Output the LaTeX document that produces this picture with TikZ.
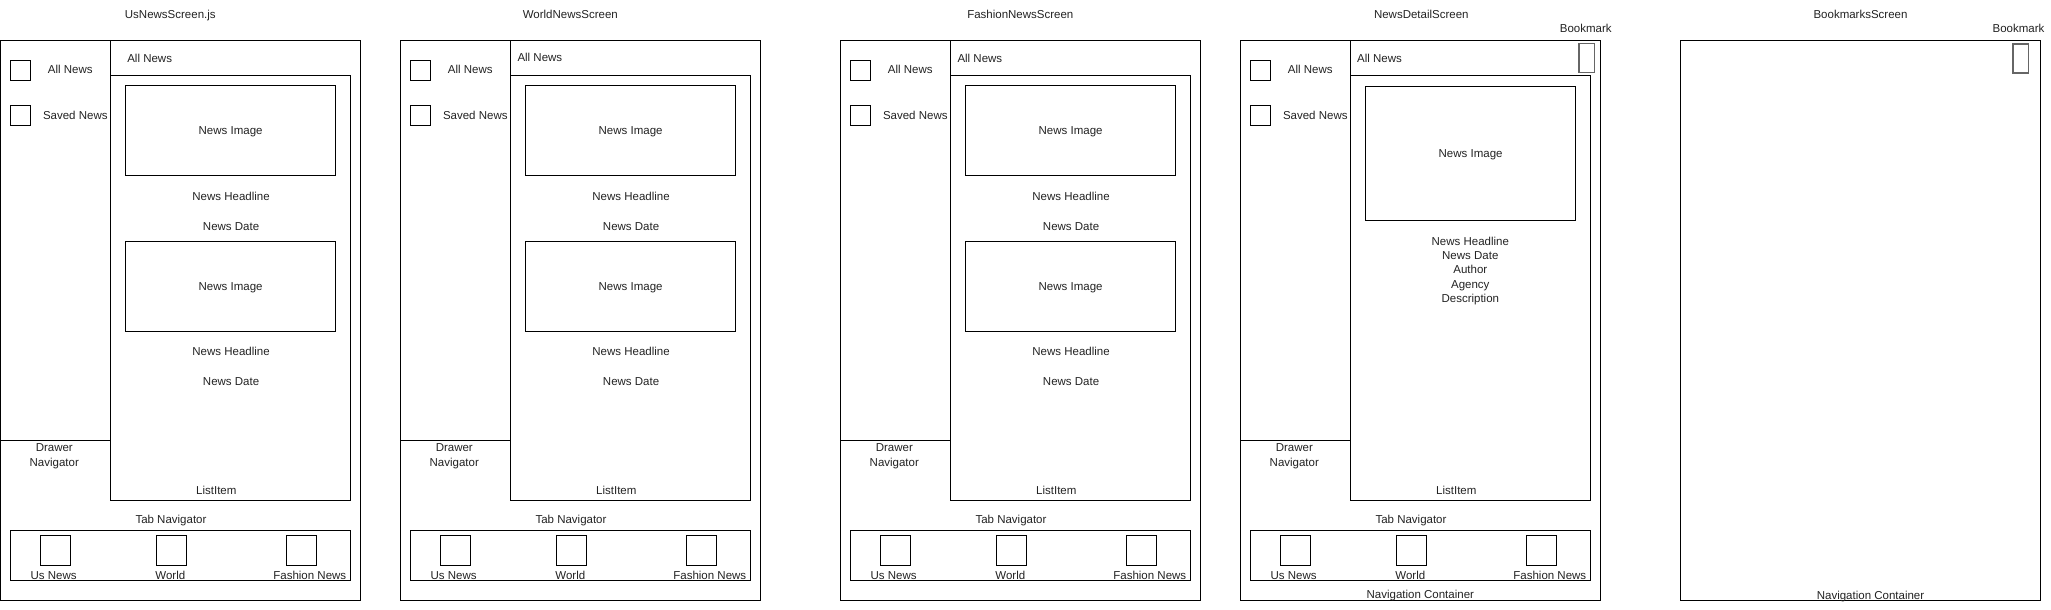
\documentclass[tikz,border=0pt]{standalone}
\usepackage{fontspec}
\setmainfont{Liberation Sans}
\newcommand\fs{\fontsize{11.5}{14.3}\selectfont}
\definecolor{txtgray}{HTML}{222222}
\definecolor{bmgray}{HTML}{666666}
\tikzset{
  ln/.style={draw=black, line width=1pt},
  box/.style={ln, inner sep=0, outer sep=0},
  txt/.style={inner sep=0, outer sep=0, text=txtgray, font=\fs, text height=8, text depth=0},
  mtxt/.style={inner sep=0, outer sep=0, text=txtgray, font=\fs, align=center},
  bmbox/.style={draw=bmgray, line width=1.2pt, inner sep=0, outer sep=0, minimum width=15.6, minimum height=29.4},
}
% common parts of a screen with drawer, list and tab bar
\newcommand\screenbase[3]{%
  \node[box, minimum width=360, minimum height=559.8] (#1-frame) at (180,-320.6) {};
  \node[box, minimum width=240, minimum height=424.3] (#1-list) at (230.3,-287.85) {};
  \coordinate (#1-dtop) at (110.3,-40.7);
  \coordinate (#1-dbot) at (110.3,-440.3);
  \coordinate (#1-dleft) at (0,-440.3);
  \draw[ln] (#1-dtop) -- (#1-dbot) -- (#1-dleft);
  \node[txt, anchor=west] (#1-hdr) at (#2,#3) {All News};
  \node[box, minimum width=20, minimum height=20] (#1-cb1) at (20.3,-70.3) {};
  \node[txt] (#1-cbl1) at (70,-70) {All News};
  \node[box, minimum width=20, minimum height=20] (#1-cb2) at (20.3,-115.3) {};
  \node[txt] (#1-cbl2) at (75,-115) {Saved News};
  \node[mtxt] (#1-drawer) at (54,-456.3) {Drawer\\Navigator};
  \node[txt] (#1-li) at (216,-490) {ListItem};
  \node[txt] (#1-tabnav) at (170.7,-519.7) {Tab Navigator};
  \node[box, minimum width=340, minimum height=50.3] (#1-tabbar) at (180.3,-555.15) {};
  \node[box, minimum width=30, minimum height=30] (#1-t1) at (55.3,-550.3) {};
  \node[box, minimum width=30, minimum height=30] (#1-t2) at (171.3,-550.3) {};
  \node[box, minimum width=30, minimum height=30] (#1-t3) at (301.3,-550.3) {};
  \node[txt] (#1-tl1) at (53.3,-575.3) {Us News};
  \node[txt] (#1-tl2) at (170,-575.3) {World};
  \node[txt] (#1-tl3) at (309.5,-575.3) {Fashion News};
}
% list screen with two news items
\newcommand\listscreen[5]{%
  \begin{scope}[shift={(#2,0)}]
  \node[txt] (#1-title) at (#3,-15) {\csname ttl#1\endcsname};
  \screenbase{#1}{#4}{#5}
  \node[box, minimum width=210, minimum height=90] (#1-img1) at (230.3,-130.3) {};
  \node[txt] (#1-img1t) at (230.3,-130.3) {News Image};
  \node[txt] (#1-hl1) at (230.8,-196) {News Headline};
  \node[txt] (#1-dt1) at (230.8,-226) {News Date};
  \node[box, minimum width=210, minimum height=90] (#1-img2) at (230.3,-286) {};
  \node[txt] (#1-img2t) at (230.3,-286) {News Image};
  \node[txt] (#1-hl2) at (230.8,-351.7) {News Headline};
  \node[txt] (#1-dt2) at (230.8,-381) {News Date};
  \end{scope}
}
\newcommand\ttla{UsNewsScreen.js}
\newcommand\ttlb{WorldNewsScreen}
\newcommand\ttlc{FashionNewsScreen}
\begin{document}
\begin{tikzpicture}[x=1pt, y=1pt]
\useasboundingbox (0,0) rectangle (2051,-610);

\listscreen{a}{0.3}{170}{127}{-59}
\listscreen{b}{400.3}{170}{117.2}{-57.5}
\listscreen{c}{840.3}{180}{117.2}{-59}

% News detail screen
\begin{scope}[shift={(1240.3,0)}]
  \node[txt] (d-title) at (181,-15) {NewsDetailScreen};
  \screenbase{d}{116.8}{-59}
  \node[bmbox] (d-bm) at (346.5,-58) {};
  \node[txt] (d-bml) at (345.5,-29) {Bookmark};
  \node[box, minimum width=210, minimum height=134] (d-img) at (230.3,-153.3) {};
  \node[txt] (d-imgt) at (230.3,-153.3) {News Image};
  \node[mtxt] (d-info) at (230,-270.8) {News Headline\\News Date\\Author\\Agency\\Description};
  \node[txt] (d-nav) at (180,-594.7) {Navigation Container};
\end{scope}

% Bookmarks screen
\begin{scope}[shift={(1680.5,0)}]
  \node[txt] (e-title) at (180,-15) {BookmarksScreen};
  \node[box, minimum width=359.6, minimum height=559.6] (e-frame) at (180,-320.5) {};
  \node[bmbox, minimum height=29] (e-bm) at (340.2,-58.5) {};
  \node[txt] (e-bml) at (338,-29) {Bookmark};
  \node[txt] (e-nav) at (190,-595) {Navigation Container};
\end{scope}
\end{tikzpicture}
\end{document}
